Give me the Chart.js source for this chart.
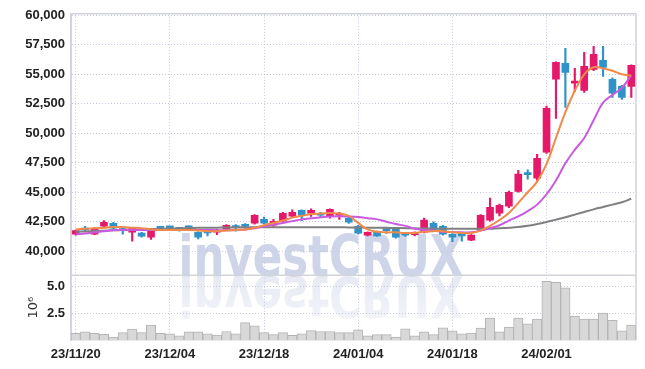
<!DOCTYPE html>
<html>
<head>
<meta charset="utf-8">
<script src="https://cdn.jsdelivr.net/npm/chart.js@4"></script>
<style>
  html, body { margin: 0; padding: 0; background: #fff; }
  #wrap { width: 645px; height: 369px; }
</style>
</head>
<body>
<div id="wrap"><canvas id="myChart" width="645" height="369"></canvas></div>
<script>
// trading days (yy/mm/dd)
const dates = [
  '23/11/20','23/11/21','23/11/22','23/11/23','23/11/24','23/11/27','23/11/28','23/11/29','23/11/30',
  '23/12/01','23/12/04','23/12/05','23/12/06','23/12/07','23/12/08','23/12/11','23/12/12','23/12/13',
  '23/12/14','23/12/15','23/12/18','23/12/19','23/12/20','23/12/21','23/12/22','23/12/26','23/12/27',
  '23/12/28','24/01/02','24/01/03','24/01/04','24/01/05','24/01/08','24/01/09','24/01/10','24/01/11',
  '24/01/12','24/01/15','24/01/16','24/01/17','24/01/18','24/01/19','24/01/22','24/01/23','24/01/24',
  '24/01/25','24/01/26','24/01/29','24/01/30','24/01/31','24/02/01','24/02/02','24/02/05','24/02/06',
  '24/02/07','24/02/08','24/02/13','24/02/14','24/02/15','24/02/16'
];

let open = [41450,41850,41450,42120,42370,41800,41610,41530,41190,42030,
            42050,41900,42050,41610,41600,41610,41860,42050,42150,42370,
            42710,42200,42540,42970,43470,43220,43220,42970,43050,42800,
            42120,41360,41610,41800,41950,41530,41400,41610,42370,42120,
            41440,41530,40930,41800,42630,43220,43810,45080,46600,46190,
            48390,54580,55930,54250,53640,55420,56190,54580,53980,53980];
let high = [41800,42100,42000,42600,42450,42050,42000,41600,41750,42100,
            42100,42000,42150,41650,41800,41850,42250,42250,42350,43100,
            42900,42700,43300,43500,43500,43600,43300,43600,43300,42900,
            42200,41650,41700,41900,42000,41600,41650,42800,42500,42200,
            41500,41600,41400,43100,44500,44000,45100,46860,46900,48220,
            52300,56050,57200,55500,56870,57370,57370,54700,54070,55800];
let low = [41350,41700,41400,42050,41900,41450,40850,41200,41000,41900,
           41950,41700,41750,41050,41300,41400,41800,41700,41800,42300,
           42300,42100,42450,42900,42600,42950,42900,42800,42700,42350,
           41450,41300,41250,41500,41100,41250,41300,41550,41700,41350,
           40800,40850,40900,41750,42550,43000,43700,45000,46100,46000,
           48300,51270,52200,53550,53470,55300,54830,53050,52880,53050];
let close = [41750,41800,41950,42450,41950,41750,41950,41270,41700,41950,
             41980,41850,41980,41190,41550,41780,42200,42000,42100,43050,
             42370,42540,43220,43300,43050,43470,43050,43560,43120,42460,
             41530,41610,41300,41750,41190,41360,41600,42630,41780,41440,
             41200,41300,41360,43050,43730,43900,45000,46530,46500,47880,
             52120,56020,55170,54350,55680,56700,55590,53390,53050,55760];

// volume in millions of shares
let volume = [0.62,0.78,0.62,0.53,0.28,0.69,1.03,0.69,1.41,0.62,
              0.59,0.40,0.78,0.78,0.59,0.47,0.80,0.59,1.64,1.34,
              0.70,0.50,0.70,0.43,0.59,0.88,0.80,0.80,0.69,0.69,
              0.96,0.40,0.50,0.50,0.28,1.06,0.40,0.78,0.50,1.15,
              0.87,0.59,0.65,1.12,2.07,0.78,1.22,2.07,1.53,1.97,
              5.53,5.43,4.90,2.25,1.97,1.97,2.54,1.86,0.86,1.41];

// moving averages
let ma5 = [41850,41900,41950,42000,42050,42050,42000,41950,41850,41800,
           41800,41800,41800,41750,41700,41700,41750,41800,41850,42000,
           42200,42400,42600,42850,43000,43150,43200,43250,43200,43000,
           42400,41850,41650,41600,41600,41550,41550,41650,41700,41700,
           41600,41550,41550,41750,42150,42650,43250,44100,45000,45900,
           47400,49600,51800,53600,55000,55600,55500,55300,55000,54900];
let ma20 = [41440,41500,41600,41700,41780,41800,41800,41800,41800,41800,
            41800,41800,41800,41800,41800,41780,41780,41800,41850,41950,
            42100,42250,42400,42550,42700,42800,42880,42950,42970,42950,
            42900,42800,42700,42500,42300,42150,41900,41800,41750,41650,
            41620,41600,41600,41750,41950,42200,42600,42950,43400,43950,
            44830,46000,47450,48600,49600,51100,52600,53250,53850,54900];
let ma60 = [41650,41680,41710,41740,41770,41800,41830,41860,41880,41900,
            41920,41940,41960,41980,41990,42000,42010,42020,42030,42040,
            42040,42040,42040,42040,42040,42040,42040,42030,42030,42020,
            42010,42000,41990,41980,41970,41950,41940,41930,41920,41910,
            41900,41900,41900,41900,41900,41950,41990,42050,42150,42300,
            42480,42680,42880,43100,43330,43550,43750,43950,44150,44450];

let priceTicks = [40000, 42500, 45000, 47500, 50000, 52500, 55000, 57500, 60000];
let volTicks = [2.5, 5.0];

const UP = '#e5186a';
const DOWN = '#2f92c8';
const GRID = '#c6cade';
const EDGE = '#d2d3db';
const FONT = '"Liberation Sans", Arial, sans-serif';
const WM_FONT = '"DejaVu Sans Condensed", "Liberation Sans", sans-serif';

let colores = close.map((c, i) => c >= open[i] ? UP : DOWN);

// watermark behind everything
const marcaAgua = {
  id: 'marcaAgua',
  beforeDraw(chart) {
    const ctx = chart.ctx;
    const texto = 'investCRUX';
    ctx.save();
    ctx.font = 'bold 60px ' + WM_FONT;
    let size = 60 * 285 / ctx.measureText(texto).width;
    ctx.font = 'bold ' + size + 'px ' + WM_FONT;
    ctx.textAlign = 'center';
    ctx.textBaseline = 'alphabetic';
    let cx = 321, base = 276;
    // stretch vertically so capitals are ~42px tall
    let sy = 42 / (size * 0.73);
    ctx.save();
    ctx.translate(cx, base);
    ctx.scale(1, sy);
    ctx.fillStyle = 'rgb(207,213,232)';
    ctx.fillText(texto, 0, 0);
    ctx.restore();
    // reflection
    ctx.translate(cx, base);
    ctx.scale(1, -sy);
    let g = ctx.createLinearGradient(0, 0, 0, -size * 0.75);
    g.addColorStop(0, 'rgba(207,213,232,0.5)');
    g.addColorStop(1, 'rgba(207,213,232,0.28)');
    ctx.fillStyle = g;
    ctx.fillText(texto, 0, 0);
    ctx.restore();
  }
};

// frame lines: top, right, and price/volume separator
const marco = {
  id: 'marco',
  beforeDatasetsDraw(chart) {
    const ctx = chart.ctx;
    const a = chart.chartArea;
    const sep = chart.scales.y.bottom;
    ctx.save();
    ctx.strokeStyle = EDGE;
    ctx.lineWidth = 1.5;
    ctx.beginPath();
    ctx.moveTo(a.left, a.top); ctx.lineTo(a.right, a.top);
    ctx.moveTo(a.right, a.top); ctx.lineTo(a.right, a.bottom);
    ctx.moveTo(a.left, sep); ctx.lineTo(a.right, sep);
    ctx.stroke();
    ctx.restore();
  }
};

let grafica = document.getElementById('myChart');

new Chart(grafica, {
  data: {
    labels: dates,
    datasets: [
      {
        type: 'line', label: 'MA5', data: ma5, yAxisID: 'y',
        borderColor: '#f08a4b', borderWidth: 2, pointRadius: 0, tension: 0.4, order: 0
      },
      {
        type: 'line', label: 'MA20', data: ma20, yAxisID: 'y',
        borderColor: '#c95ae0', borderWidth: 2, pointRadius: 0, tension: 0.4, order: 0
      },
      {
        type: 'line', label: 'MA60', data: ma60, yAxisID: 'y',
        borderColor: '#808080', borderWidth: 2, pointRadius: 0, tension: 0.4, order: 0
      },
      {
        type: 'bar', label: 'cuerpo', data: open.map((o, i) => [o, close[i]]), yAxisID: 'y',
        backgroundColor: colores, barThickness: 7, minBarLength: 2, grouped: false, order: 2
      },
      {
        type: 'bar', label: 'mecha', data: low.map((l, i) => [l, high[i]]), yAxisID: 'y',
        backgroundColor: colores, barThickness: 1.5, grouped: false, order: 3
      },
      {
        type: 'bar', label: 'volumen', data: volume, yAxisID: 'yv',
        backgroundColor: '#d8d8d8', borderColor: '#b4b4b4', borderWidth: 1,
        barPercentage: 1, categoryPercentage: 1, grouped: false, order: 4
      }
    ]
  },
  options: {
    responsive: false,
    maintainAspectRatio: false,
    devicePixelRatio: 1,
    animation: false,
    layout: { padding: { top: 13, right: 9, left: 0, bottom: 0 } },
    plugins: { legend: { display: false }, tooltip: { enabled: false } },
    scales: {
      x: {
        type: 'category',
        offset: true,
        afterFit: s => { s.height = 29; },
        grid: {
          offset: false,
          drawTicks: false,
          color: c => c.index % 10 === 0 ? GRID : 'rgba(0,0,0,0)'
        },
        border: { display: true, color: EDGE, width: 1.5, dash: [1, 2] },
        ticks: {
          autoSkip: false, maxRotation: 0, padding: 7,
          color: '#222', font: { family: FONT, size: 13, weight: 'bold' },
          callback: (v, i) => i % 10 === 0 ? dates[i] : ''
        }
      },
      yv: {
        type: 'linear', position: 'left', stack: 'panel', stackWeight: 65,
        min: 0, max: 6.1,
        afterFit: s => { s.width = 71; },
        afterBuildTicks: s => { s.ticks = volTicks.map(v => ({ value: v })); },
        grid: { drawTicks: false, color: GRID },
        border: { display: true, color: EDGE, width: 2, dash: [1, 2] },
        ticks: {
          autoSkip: false, padding: 6, color: '#222', font: { family: FONT, size: 13, weight: 'bold' },
          callback: v => v.toFixed(1)
        },
        title: {
          display: true, text: '10⁶', color: '#333',
          font: { family: '"DejaVu Sans", sans-serif', size: 13 },
          padding: { top: 26, bottom: 0 }
        }
      },
      y: {
        type: 'linear', position: 'left', stack: 'panel', stackWeight: 262,
        min: 37970, max: 60130,
        afterFit: s => { s.width = 71; },
        afterBuildTicks: s => { s.ticks = priceTicks.map(v => ({ value: v })); },
        grid: { drawTicks: false, color: GRID },
        border: { display: true, color: EDGE, width: 2, dash: [1, 2] },
        ticks: {
          autoSkip: false, padding: 6, color: '#222', font: { family: FONT, size: 13, weight: 'bold' },
          callback: v => v.toLocaleString('en-US')
        }
      }
    }
  },
  plugins: [marcaAgua, marco]
});
</script>
</body>
</html>
